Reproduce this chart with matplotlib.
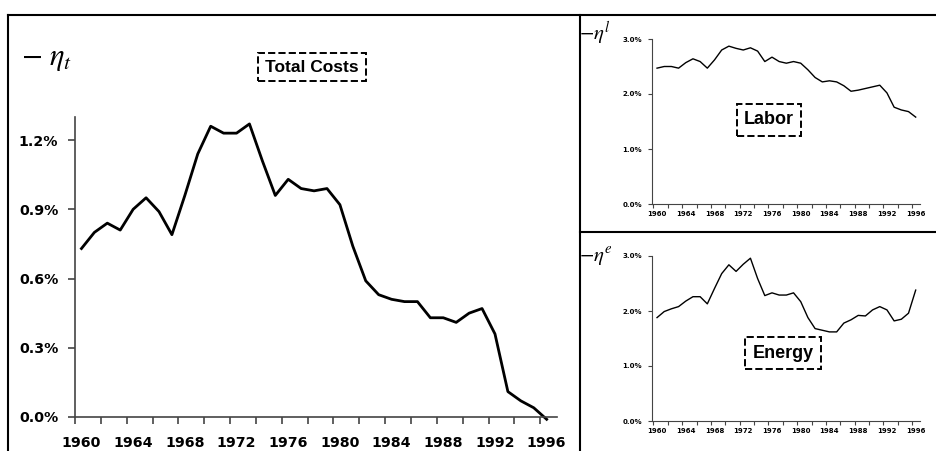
import numpy as np
import matplotlib
matplotlib.use("Agg")
import matplotlib.pyplot as plt
from matplotlib.lines import Line2D
from matplotlib.ticker import FuncFormatter, FixedLocator

plt.rcParams['font.family'] = ['Liberation Sans', 'DejaVu Sans']
plt.rcParams['mathtext.fontset'] = 'stix'

# --- data (percent) ---
years = list(range(1960, 1997))
total_costs = [0.73, 0.80, 0.84, 0.81, 0.90, 0.95, 0.89, 0.79, 0.96, 1.14,
               1.26, 1.23, 1.23, 1.27, 1.11, 0.96, 1.03, 0.99, 0.98, 0.99,
               0.92, 0.74, 0.59, 0.53, 0.51, 0.50, 0.50, 0.43, 0.43, 0.41,
               0.45, 0.47, 0.36, 0.11, 0.07, 0.04, -0.01]
labor = [2.47, 2.50, 2.50, 2.47, 2.57, 2.64, 2.59, 2.47, 2.62, 2.80,
         2.87, 2.83, 2.80, 2.84, 2.78, 2.59, 2.67, 2.59, 2.56, 2.59,
         2.56, 2.44, 2.30, 2.22, 2.24, 2.22, 2.15, 2.05, 2.07, 2.10,
         2.13, 2.16, 2.02, 1.76, 1.71, 1.68, 1.58]
energy = [1.88, 1.99, 2.04, 2.08, 2.18, 2.26, 2.26, 2.13, 2.41, 2.68,
          2.84, 2.72, 2.85, 2.96, 2.59, 2.28, 2.33, 2.29, 2.29, 2.33,
          2.17, 1.88, 1.68, 1.65, 1.62, 1.62, 1.78, 1.84, 1.92, 1.91,
          2.02, 2.08, 2.02, 1.82, 1.85, 1.96, 2.38]

year_labels = list(range(1960, 1997, 4))
main_yticks = [0.0, 0.3, 0.6, 0.9, 1.2]
side_yticks = [0.0, 1.0, 2.0, 3.0]

W, H = 937, 451
fig = plt.figure(figsize=(W / 100, H / 100), dpi=100)


def fx(px):
    return px / W


def fy(py):
    return 1 - py / H


def style_axis(ax, yticks, xlim, ylim, lw, fs, tlen, xpad, ypad):
    ax.set_xlim(*xlim)
    ax.set_ylim(*ylim)
    for s in ['top', 'right']:
        ax.spines[s].set_visible(False)
    for s in ['left', 'bottom']:
        ax.spines[s].set_color('#444444')
        ax.spines[s].set_linewidth(lw)
    ax.set_yticks(yticks)
    ax.yaxis.set_major_formatter(FuncFormatter(lambda v, p: f"{v:.1f}%"))
    # tick marks sit between categories, labels on every 4th year
    ax.xaxis.set_major_locator(FixedLocator(np.arange(1959.5, 1997, 2)))
    ax.xaxis.set_major_formatter(FuncFormatter(lambda v, p: ""))
    ax.set_xticks(year_labels, minor=True)
    ax.set_xticklabels([str(y) for y in year_labels], minor=True)
    ax.tick_params(axis='x', which='minor', length=0, labelsize=fs, pad=xpad)
    ax.tick_params(axis='x', which='major', length=tlen, width=lw, color='#444444')
    ax.tick_params(axis='y', length=tlen, width=lw, color='#444444',
                   labelsize=fs, pad=ypad)
    for t in ax.get_xticklabels(minor=True) + ax.get_yticklabels():
        t.set_fontweight('bold')
        t.set_family('DejaVu Sans')


box = dict(boxstyle='square,pad=0.4', fc='white', ec='black', ls='--', lw=1.4)

# main panel
ax = fig.add_axes([fx(75), fy(417), fx(557) - fx(75), fy(117) - fy(417)])
ax.plot(years, total_costs, color='black', lw=2, clip_on=False)
style_axis(ax, main_yticks, (1959.5, 1996.8), (0, 1.3), 1.2, 10.2, 5, 14, 7)
fig.text(fx(312), fy(67), "Total Costs", ha='center', va='center',
         fontsize=12.5, fontweight='bold', bbox=box)
fig.text(fx(21), fy(58), r"$-\ \eta_t$", ha='left', va='center', fontsize=22)

# labor panel
ax_l = fig.add_axes([fx(652), fy(204), fx(920) - fx(652), fy(39) - fy(204)])
ax_l.plot(years, labor, color='black', lw=1)
style_axis(ax_l, side_yticks, (1959.3, 1996.6), (0, 3.0), 0.8, 5, 3, 5, 4)
fig.text(fx(769), fy(120), "Labor", ha='center', va='center',
         fontsize=13, fontweight='bold', bbox=box)
fig.text(fx(579), fy(33), r"$-\eta^l$", ha='left', va='center', fontsize=15)

# energy panel
ax_e = fig.add_axes([fx(652), fy(421), fx(920) - fx(652), fy(256) - fy(421)])
ax_e.plot(years, energy, color='black', lw=1)
style_axis(ax_e, side_yticks, (1959.3, 1996.6), (0, 3.0), 0.8, 5, 3, 5, 4)
fig.text(fx(783), fy(353), "Energy", ha='center', va='center',
         fontsize=13, fontweight='bold', bbox=box)
fig.text(fx(579), fy(257), r"$-\eta^e$", ha='left', va='center', fontsize=15)

# frame lines
frame = dict(color='black', lw=1.5, transform=fig.transFigure)
fig.add_artist(Line2D([fx(8), 1], [fy(15), fy(15)], **frame))
fig.add_artist(Line2D([fx(8), fx(8)], [0, fy(15)], **frame))
fig.add_artist(Line2D([fx(580), fx(580)], [0, fy(15)], **frame))
fig.add_artist(Line2D([fx(580), 1], [fy(232), fy(232)], **frame))

fig.savefig("out.png", dpi=100)
